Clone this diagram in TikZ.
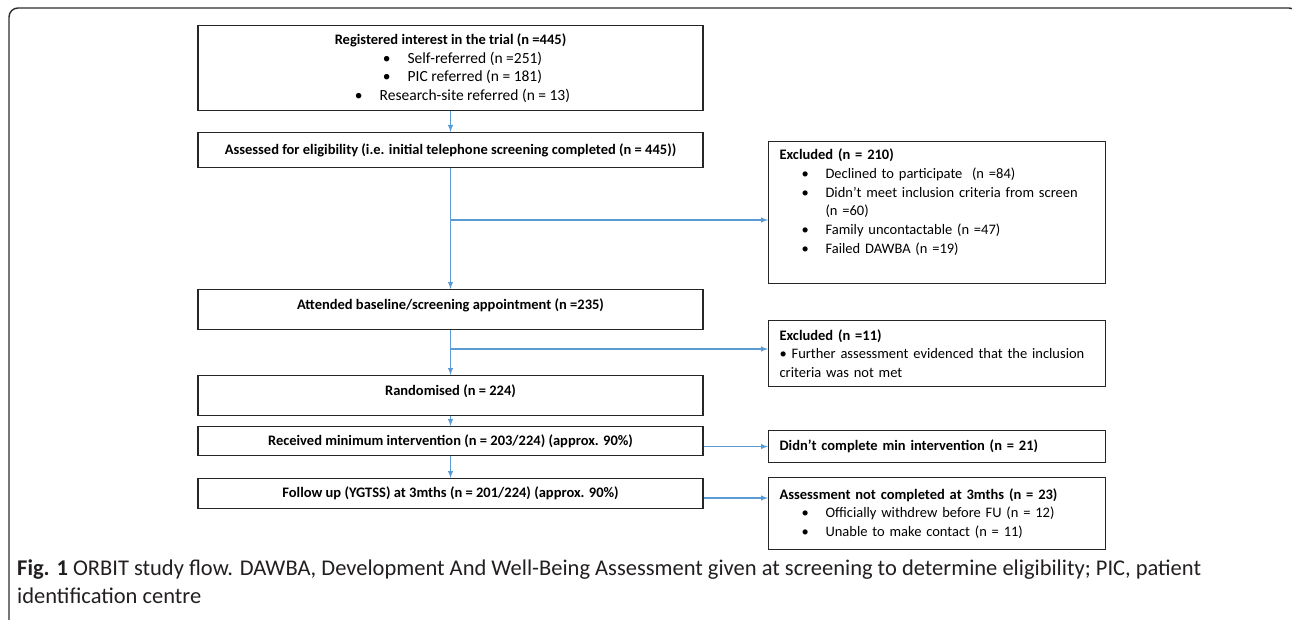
\documentclass[tikz,border=0pt]{standalone}
\usepackage{fontspec}
\setmainfont{Carlito}
\usetikzlibrary{arrows,shapes,calc}
\usepackage{xcolor}
\definecolor{flowblue}{RGB}{91,155,213}
\definecolor{framegray}{RGB}{45,45,45}
\definecolor{capgray}{RGB}{35,31,32}
\newcommand{\bl}{\makebox[46pt][l]{\hspace*{22pt}\textbullet}}
\newcommand{\cbl}[1]{\rule{24pt}{0pt}\textbullet\hspace{17pt}#1}

\begin{document}
\begin{tikzpicture}[x=1pt, y=-1pt,
                    every node/.style = {inner sep=0pt, font=\fontsize{14.5}{18.7}\selectfont},
                    box/.style = {draw=black!85, line width=1.1pt},
                    mainbox/.style = {box, minimum width=505pt, align=center, anchor=north},
                    sidebox/.style = {box, minimum width=337pt, text width=315pt, inner xsep=11pt, inner ysep=7.5pt, align=left, anchor=north west},
                    flow/.style = {draw=flowblue, line width=1.4pt, -latex}]
                \useasboundingbox (0,0) rectangle (1292,620);
                \draw[framegray, line width=1.4pt, rounded corners=9pt] (9,630) -- (9,8) -- (1298,8) -- (1298,630);
                \node[mainbox, minimum height=85pt] (reg) at (450.5,25)
                    {\textbf{Registered interest in the trial (n =445)}\\
                     {\fontsize{15.5}{18.7}\selectfont\cbl{Self-referred (n =251)}}\\
                     {\fontsize{15.5}{18.7}\selectfont\cbl{PIC referred (n = 181)}}\\
                     {\fontsize{15.5}{18.7}\selectfont\cbl{Research-site referred (n = 13)}}};
                \node[mainbox, minimum height=35pt, font=\fontsize{14.5}{18.7}\bfseries] (elig) at (450.5,132)
                    {Assessed for eligibility (i.e. initial telephone screening completed (n = 445))};
                \node[mainbox, minimum height=40pt, text depth=11pt, font=\fontsize{14.5}{18.7}\bfseries] (att) at (450.5,289)
                    {Attended baseline/screening appointment (n =235)};
                \node[mainbox, minimum height=40pt, text depth=11pt, font=\fontsize{14.5}{18.7}\bfseries] (rand) at (450.5,375)
                    {Randomised (n = 224)};
                \node[mainbox, minimum height=29pt, font=\fontsize{14.5}{18.7}\bfseries] (recv) at (450.5,426)
                    {Received minimum intervention (n = 203/224) (approx. 90\%)};
                \node[mainbox, minimum height=30pt, font=\fontsize{14.5}{18.7}\bfseries] (fu) at (450.5,478)
                    {Follow up (YGTSS) at 3mths (n = 201/224) (approx. 90\%)};
                \node[sidebox, text depth=116pt] (excl1) at (768,141)
                    {\textbf{Excluded (n = 210)}\\
                     \bl Declined to participate\ \ (n =84)\\
                     \bl Didn’t meet inclusion criteria from screen\\
                     \hspace*{46pt}(n =60)\\
                     \bl Family uncontactable (n =47)\\
                     \bl Failed DAWBA (n =19)};
                \node[sidebox, minimum height=66pt] (excl2) at (768,320)
                    {\textbf{Excluded (n =11)}\\
                     \textbullet\ Further assessment evidenced that the inclusion\\
                     criteria was not met};
                \node[sidebox, minimum height=32pt] (didnt) at (768,430)
                    {\textbf{Didn’t complete min intervention (n = 21)}};
                \node[sidebox, minimum height=72pt] (asmt) at (768,477)
                    {\textbf{Assessment not completed at 3mths (n = 23)}\\
                     \bl Officially withdrew before FU (n = 12)\\
                     \bl Unable to make contact (n = 11)};
                \node[anchor=north west, align=left, text=capgray, font=\fontsize{22.5}{28}\selectfont] (cap) at (17,560)
                    {\textbf{Fig. 1} ORBIT study flow. DAWBA, Development And Well-Being Assessment given at screening to determine eligibility; PIC, patient\\
                     identification centre};
                \coordinate (b1) at (450.5,220);
                \coordinate (b2) at (450.5,349);
                \draw[flow] (reg) -- (elig);
                \draw[flow] (elig) -- (att);
                \draw[flow] (b1) -- (b1 -| excl1.west);
                \draw[flow] (att) -- (rand);
                \draw[flow] (b2) -- (b2 -| excl2.west);
                \draw[flow] (rand) -- (recv);
                \draw[flow] (recv) -- (fu);
                \draw[flow] (recv.east |- didnt.west) -- (didnt.west);
                \draw[flow] (fu.east |- 0,498) -- (asmt.west |- 0,498);
                \end{tikzpicture}
\end{document}
